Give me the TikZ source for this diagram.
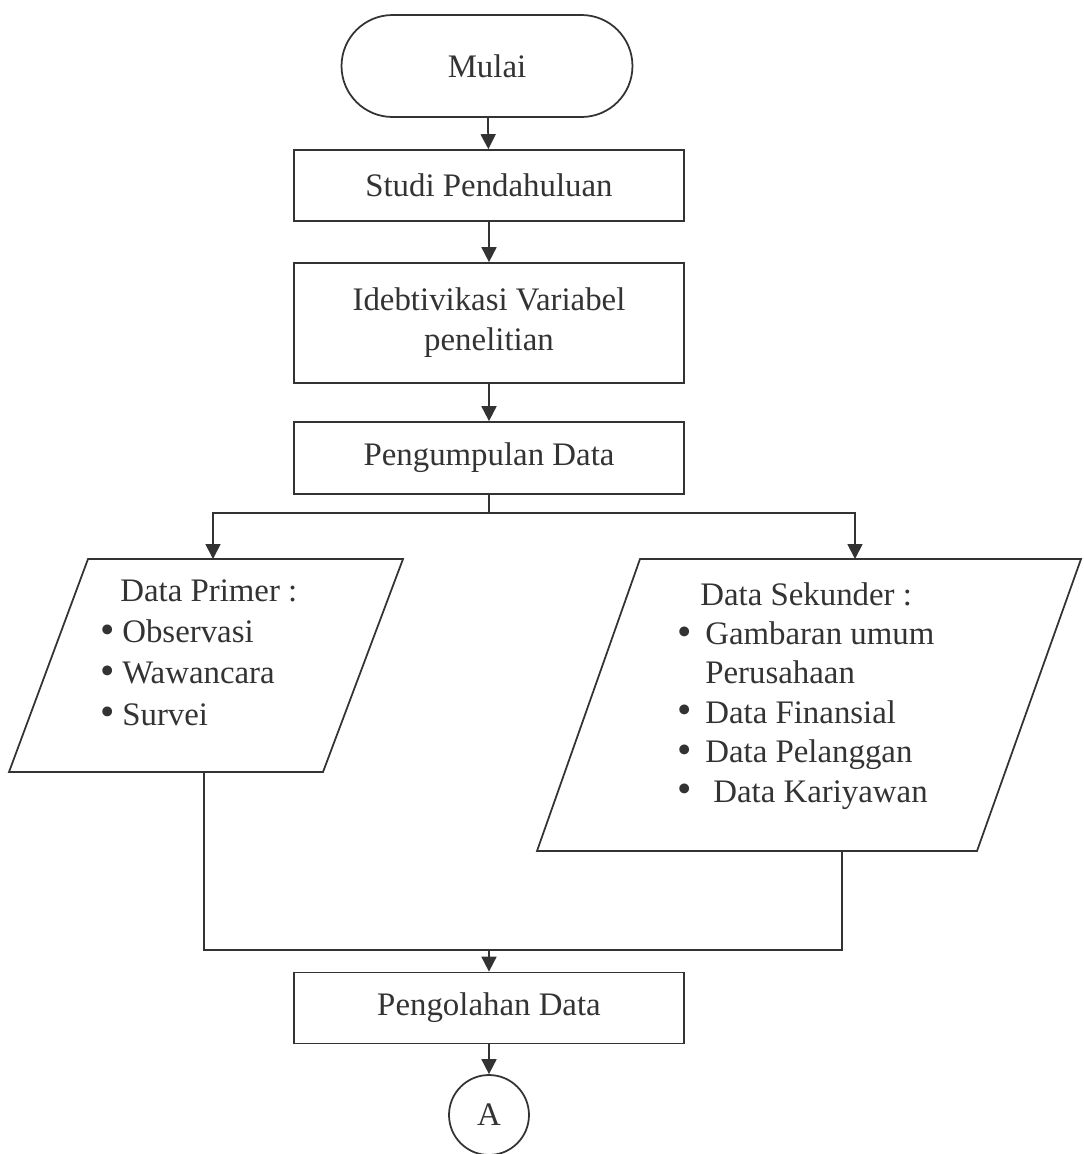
\documentclass[tikz,border=0pt]{standalone}
\usepackage{fontspec}
\setmainfont{Liberation Serif}
\usetikzlibrary{arrows.meta}
\definecolor{inkgray}{HTML}{333333}
\newcommand{\butir}[1]{\makebox[#1][l]{\raisebox{-0.02em}{\scalebox{1.25}{\textbullet}}}}
\begin{document}
\begin{tikzpicture}[x=0.02cm,y=-0.02cm,
  every node/.style={font=\fontsize{18.7}{22.7}\selectfont, text=inkgray},
  terminal/.style={draw=inkgray, line width=1pt, rounded corners=1.02cm, minimum width=5.82cm, minimum height=2.04cm},
  prosesbox/.style={draw=inkgray, line width=1pt, minimum width=7.8cm, minimum height=1.42cm, inner sep=0pt},
  databox/.style={draw=inkgray, line width=1pt},
  konektor/.style={draw=inkgray, line width=1pt, circle, minimum size=1.6cm, inner sep=0pt},
  arah/.style={draw=inkgray, line width=1pt, -{Triangle[width=0.3cm,length=0.3cm]}},
  garis/.style={draw=inkgray, line width=0.6pt}]
\useasboundingbox (0,0) rectangle (1083,1154);

\node[terminal] (mulai) at (487,66) {Mulai};
\node[prosesbox] (studi) at (489,185.5) {Studi Pendahuluan};
\node[prosesbox, minimum height=2.4cm, align=center] (idvar) at (489,323) {Idebtivikasi Variabel\\penelitian};
\node[prosesbox, minimum height=1.44cm] (kumpul) at (489,458) {Pengumpulan Data};
\node[prosesbox] (olah) at (489,1008) {Pengolahan Data};
\node[konektor] (A) at (489,1115) {A};

\draw[databox] (9,772) -- (88,559) -- (403,559) -- (323,772) -- cycle;
\draw[databox] (537,851) -- (640,559) -- (1081,559) -- (977,851) -- cycle;

\node[anchor=base west, align=left, inner sep=0pt, font=\fontsize{18.7}{23.4}\selectfont] (primer) at (100,725)
  {\hspace*{0.4cm}Data Primer :\\
   \butir{0.44cm}Observasi\\
   \butir{0.44cm}Wawancara\\
   \butir{0.44cm}Survei};
\node[anchor=base west, align=left, inner sep=0pt, font=\fontsize{18.7}{22.4}\selectfont] (sekunder) at (677,802)
  {\hspace*{0.46cm}Data Sekunder :\\
   \butir{0.56cm}Gambaran umum\\
   \hspace*{0.56cm}Perusahaan\\
   \butir{0.56cm}Data Finansial\\
   \butir{0.56cm}Data Pelanggan\\
   \butir{0.56cm}\hspace*{0.16cm}Data Kariyawan};

\coordinate (cabang) at (489,513);
\coordinate (primerin) at (213,559);
\coordinate (sekunderin) at (855,559);
\coordinate (primerout) at (204,772);
\coordinate (sekunderout) at (842,851);
\coordinate (gabung) at (489,950);

\draw[arah] (mulai) -- (studi);
\draw[arah] (studi) -- (idvar);
\draw[arah] (idvar) -- (kumpul);
\draw[garis, line width=1pt] (kumpul) -- (cabang);
\draw[arah] (cabang) -| (primerin);
\draw[arah] (cabang) -| (sekunderin);
\draw[garis] (primerout) |- (gabung) -| (sekunderout);
\draw[arah] (gabung) -- (olah);
\draw[arah] (olah) -- (A);
\end{tikzpicture}
\end{document}
